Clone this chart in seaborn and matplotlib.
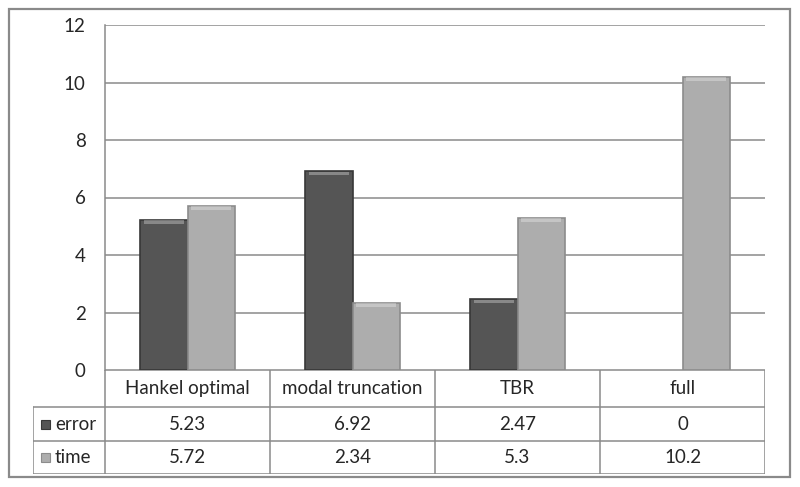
import matplotlib
matplotlib.use('Agg')
import matplotlib.pyplot as plt
import pandas as pd
import seaborn as sns
from matplotlib.patches import Rectangle

methods = ['Hankel optimal', 'modal truncation', 'TBR', 'full']
series = ['error', 'time']
error_vals = [5.23, 6.92, 2.47, 0]
time_vals = [5.72, 2.34, 5.3, 10.2]
yticks = [0, 2, 4, 6, 8, 10, 12]
colors = {'error': '#555555', 'time': '#adadad'}
edges = {'error': '#383838', 'time': '#8c8c8c'}

W, H = 800, 487


def fx(px):
    return px / W


def fy(py):
    # pixel y measured from top -> figure fraction
    return 1 - py / H


def main():
    sns.set_style('white')
    plt.rcParams['font.family'] = ['Lato', 'DejaVu Sans']
    fs = 13.5

    df = pd.DataFrame({
        'method': methods * 2,
        'series': ['error'] * len(methods) + ['time'] * len(methods),
        'value': error_vals + time_vals,
    })

    fig = plt.figure(figsize=(8, 4.87), dpi=100)

    # outer chart border
    fig.patches.append(Rectangle((fx(9), fy(477)), fx(781), (477 - 9) / H,
                                 transform=fig.transFigure, fill=False,
                                 edgecolor='#8a8a8a', linewidth=1.6))

    ax = fig.add_axes([fx(105), fy(370), fx(660), (370 - 25) / H])
    sns.barplot(data=df, x='method', y='value', hue='series', order=methods,
                hue_order=series, palette=colors, width=0.57, ax=ax,
                legend=False, saturation=1)

    # darker edges, a bit like the bevelled excel bars
    for cont, s in zip(ax.containers, series):
        for bar in cont:
            if bar.get_height() <= 0:
                bar.set_linewidth(0)
                continue
            bar.set_edgecolor(edges[s])
            bar.set_linewidth(1.2)
            x0, w = bar.get_x(), bar.get_width()
            top = bar.get_height()
            # light top bevel
            ax.add_patch(Rectangle((x0 + w * 0.08, top - 0.14), w * 0.84, 0.12,
                                   facecolor='white', alpha=0.3,
                                   edgecolor='none', zorder=3))

    ax.set_ylim(0, 12)
    ax.set_xlim(-0.5, len(methods) - 0.5)
    ax.set_yticks(yticks)
    ax.set_yticklabels([str(t) for t in yticks], fontsize=fs)
    ax.tick_params(axis='y', length=0, pad=14)
    ax.set_xticks([])
    ax.set_xlabel('')
    ax.set_ylabel('')
    ax.yaxis.grid(True, color='#8a8a8a', linewidth=1.1)
    ax.set_axisbelow(True)
    for side in ['top', 'right', 'bottom']:
        ax.spines[side].set_visible(False)
    ax.spines['left'].set_color('#8a8a8a')
    ax.spines['left'].set_linewidth(1.1)

    # data table below the plot
    left_w = (105 - 33) / 165
    tab = fig.add_axes([fx(33), fy(474), fx(765 - 33), (474 - 370) / H])
    tab.set_xlim(-0.5 - left_w, len(methods) - 0.5)
    rows = [0, 37, 71, 104]
    tab.set_ylim(104, 0)
    tab.axis('off')
    lc = '#8a8a8a'
    lw = 1.1
    # horizontal lines
    tab.plot([-0.5, len(methods) - 0.5], [rows[0], rows[0]], color=lc, lw=lw)
    for r in rows[1:]:
        tab.plot([-0.5 - left_w, len(methods) - 0.5], [r, r], color=lc, lw=lw)
    # vertical lines
    tab.plot([-0.5 - left_w] * 2, [rows[1], rows[3]], color=lc, lw=lw)
    for i in range(len(methods) + 1):
        tab.plot([i - 0.5] * 2, [rows[0], rows[3]], color=lc, lw=lw)

    for i, m in enumerate(methods):
        tab.text(i, (rows[0] + rows[1]) / 2, m, ha='center', va='center', fontsize=fs)
        tab.text(i, (rows[1] + rows[2]) / 2, f'{error_vals[i]:g}', ha='center', va='center', fontsize=fs)
        tab.text(i, (rows[2] + rows[3]) / 2, f'{time_vals[i]:g}', ha='center', va='center', fontsize=fs)

    for k, s in enumerate(series):
        yc = (rows[k + 1] + rows[k + 2]) / 2
        kx = -0.5 - left_w + 8 / 165
        tab.add_patch(Rectangle((kx, yc - 4.5), 9 / 165, 9, facecolor=colors[s],
                                edgecolor=edges[s], linewidth=0.8))
        tab.text(kx + 14 / 165, yc, s, ha='left', va='center', fontsize=fs)

    fig.savefig('out.png', dpi=100)


if __name__ == '__main__':
    main()
